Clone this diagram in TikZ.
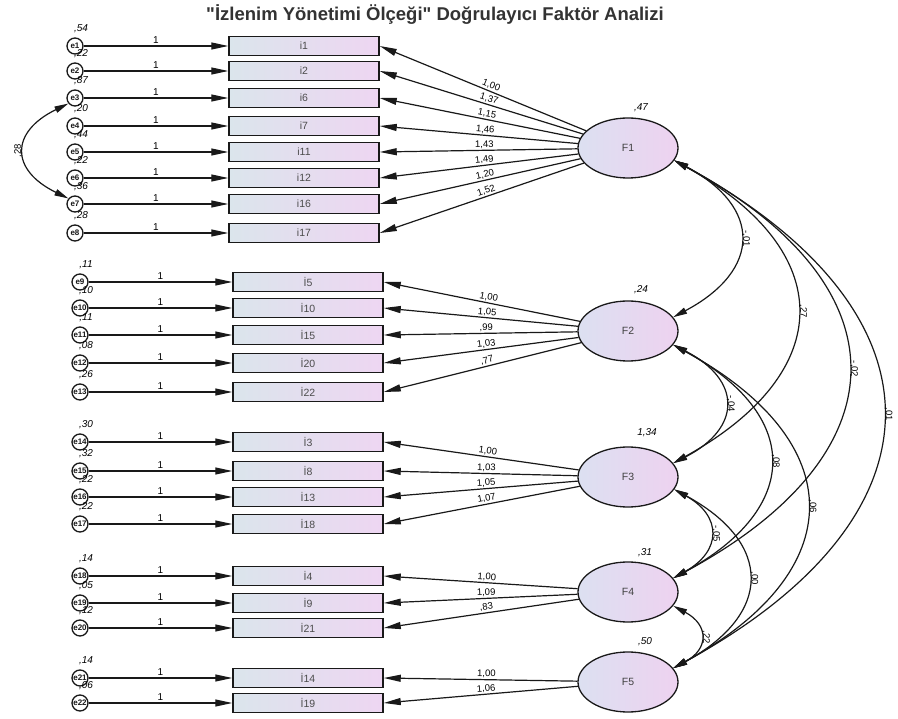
\documentclass[tikz,border=0pt]{standalone}
\usepackage{fontspec}
\setmainfont{Liberation Sans}
\newfontfamily\titlefont{Liberation Sans}
\usetikzlibrary{arrows.meta,shapes.geometric}

\definecolor{boxL}{RGB}{219,229,236}
\definecolor{boxR}{RGB}{238,214,242}
\definecolor{facL}{RGB}{220,224,241}
\definecolor{facR}{RGB}{238,210,240}
\definecolor{ink}{RGB}{25,25,25}

\begin{document}
\begin{tikzpicture}[x=1pt,y=-1pt,
  arr/.style={-{Triangle[length=17pt,width=7pt]}, line width=1.2pt, draw=ink},
  darr/.style={{Triangle[length=14pt,width=6.5pt]}-{Triangle[length=14pt,width=6.5pt]}, line width=1.2pt, draw=ink},
  item/.style={draw=ink, line width=1.5pt, minimum width=150pt, minimum height=19pt,
    inner sep=0pt, left color=boxL, right color=boxR, text=black!70,
    font=\fontsize{10.5}{10.5}\selectfont},
  fac/.style={ellipse, draw=ink, line width=1.3pt, minimum width=100pt, minimum height=60pt,
    inner sep=0pt, left color=facL, right color=facR, text=black!75,
    font=\fontsize{10.5}{10.5}\selectfont},
  err/.style={circle, draw=ink, line width=1.3pt, minimum size=16pt, inner sep=0pt,
    fill=white, text=ink, font=\fontsize{8}{8}\bfseries},
  vlab/.style={inner sep=0pt, font=\fontsize{10}{10}\itshape},
  one/.style={inner sep=2pt, font=\fontsize{10}{10}\selectfont},
  load/.style={pos=0.47, sloped, above, inner sep=1pt, font=\fontsize{9.5}{10}\selectfont},
  covlab/.style={midway, anchor=south, rotate=-90, inner sep=1.5pt, font=\fontsize{9.5}{9.5}\selectfont}
]
\fill[white] (0,0) rectangle (898,719);
\useasboundingbox (0,0) rectangle (898,719);

% title
\node[font=\titlefont\fontsize{18.5}{20}\bfseries, text=black!80] (title) at (435,15)
  {"İzlenim Yönetimi Ölçeği" Doğrulayıcı Faktör Analizi};

% latent factors with their variances
\node[fac] (F1) at (628,148) {F1};
\node[fac] (F2) at (628,331) {F2};
\node[fac] (F3) at (628,477) {F3};
\node[fac] (F4) at (628,592) {F4};
\node[fac] (F5) at (628,682) {F5};
\node[vlab] (vF1) at (641,108) {,47};
\node[vlab] (vF2) at (641,290) {,24};
\node[vlab] (vF3) at (647,433) {1,34};
\node[vlab] (vF4) at (645,553) {,31};
\node[vlab] (vF5) at (645,642) {,50};

% indicators: error -> item <- factor
\foreach \k/\t/\y/\v/\f/\l/\bx/\ex in {
   1/i1/46/54/F1/{1,00}/304/75,
   2/i2/71/22/F1/{1,37}/304/75,
   3/i6/98/87/F1/{1,15}/304/75,
   4/i7/126/20/F1/{1,46}/304/75,
   5/i11/152/44/F1/{1,43}/304/75,
   6/i12/178/22/F1/{1,49}/304/75,
   7/i16/204/36/F1/{1,20}/304/75,
   8/i17/233/28/F1/{1,52}/304/75,
   9/İ5/282/11/F2/{1,00}/308/80,
  10/İ10/308/10/F2/{1,05}/308/80,
  11/İ15/335/11/F2/{,99}/308/80,
  12/İ20/363/08/F2/{1,03}/308/80,
  13/İ22/392/26/F2/{,77}/308/80,
  14/İ3/442/30/F3/{1,00}/308/80,
  15/İ8/471/32/F3/{1,03}/308/80,
  16/İ13/497/22/F3/{1,05}/308/80,
  17/İ18/524/22/F3/{1,07}/308/80,
  18/İ4/576/14/F4/{1,00}/308/80,
  19/İ9/603/05/F4/{1,09}/308/80,
  20/İ21/628/12/F4/{,83}/308/80,
  21/İ14/678/14/F5/{1,00}/308/80,
  22/İ19/703/06/F5/{1,06}/308/80}{
  \node[item] (b\k) at (\bx,\y) {\t};
  \node[err] (e\k) at (\ex,\y) {\makebox[0pt]{e\k}};
  \node[vlab] (v\k) at ([shift={(6,-17)}]e\k.center) {,\v};
  \draw[arr] (e\k) -- (b\k) node[midway, above, one] (o\k) {1};
  \draw[arr] (\f) -- (b\k.east) node[load] (l\k) {\l};
}

% correlated errors e3 and e7
\draw[darr] (e3.220) .. controls (10,132) and (10,170) .. (e7.140)
  node[midway, anchor=south, rotate=90, inner sep=2pt, font=\fontsize{9.5}{9.5}\selectfont] (c37) {,28};

% factor covariances
\draw[darr] (F1.-15) .. controls (762,207) and (762,270) .. (F2.17) node[covlab] (c12) {-,01};
\draw[darr] (F1.-15) .. controls (838,251) and (838,372) .. (F3.17) node[covlab] (c13) {,27};
\draw[darr] (F1.-15) .. controls (906,285) and (906,453) .. (F4.17) node[covlab] (c14) {-,02};
\draw[darr] (F1.-15) .. controls (952,312) and (952,516) .. (F5.17) node[covlab] (c15) {,01};
\draw[darr] (F2.-17) .. controls (742,380) and (742,428) .. (F3.17) node[covlab] (c23) {-,04};
\draw[darr] (F2.-17) .. controls (802,415) and (802,508) .. (F4.17) node[covlab] (c24) {,08};
\draw[darr] (F2.-17) .. controls (851,442) and (851,571) .. (F5.17) node[covlab] (c25) {,06};
\draw[darr] (F3.-15) .. controls (722,516) and (722,551) .. (F4.17) node[covlab] (c34) {-,05};
\draw[darr] (F3.-15) .. controls (773,543) and (773,614) .. (F5.17) node[covlab] (c35) {,00};
\draw[darr] (F4.-17) .. controls (709,625) and (709,649) .. (F5.17) node[covlab] (c45) {,22};
\end{tikzpicture}
\end{document}
